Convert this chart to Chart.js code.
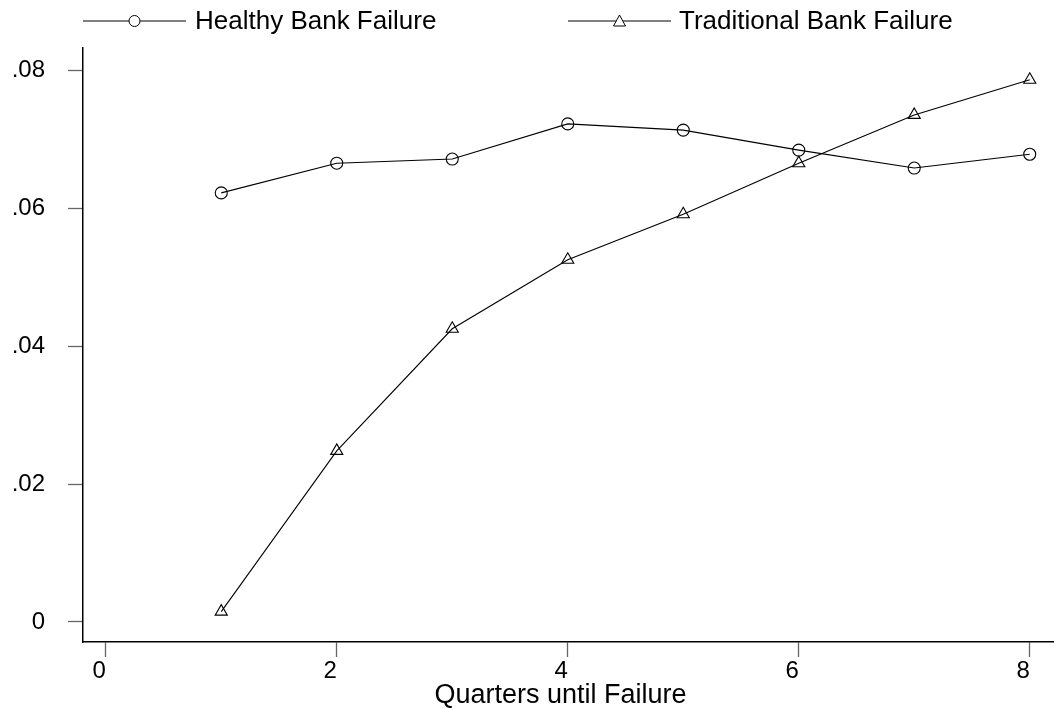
<!DOCTYPE html>
<html lang="en">
<head>
    <meta charset="UTF-8">
    <title>Quarters until Failure</title>
    <script src="https://cdn.jsdelivr.net/npm/chart.js@4.4.0/dist/chart.umd.min.js"></script>
    <style>
        html, body { margin: 0; padding: 0; background: #fff; overflow: hidden; }
        #wrap { width: 1054px; height: 708px; }
        canvas { display: block; }
    </style>
</head>
<body>
    <div id="wrap"><canvas id="chart" width="1054" height="708"></canvas></div>
    <script>
        // data
        const quarters = [1, 2, 3, 4, 5, 6, 7, 8];
        const healthy = [0.0622, 0.0665, 0.0671, 0.0722, 0.0713, 0.0684, 0.0658, 0.0678];
        const traditional = [0.0015, 0.0248, 0.0425, 0.0525, 0.0591, 0.0665, 0.0735, 0.0786];
        const xTicks = [0, 2, 4, 6, 8];
        const yTicks = [0, 0.02, 0.04, 0.06, 0.08];
        const seriesNames = ['Healthy Bank Failure', 'Traditional Bank Failure'];
        const xTitle = 'Quarters until Failure';

        const FAMILY = 'Arial, "Liberation Sans", sans-serif';
        const TICK_FONT = { family: FAMILY, size: 24 };

        // Stata style legend (line with marker in the middle) and the x axis title
        const lineLegend = {
            id: 'lineLegend',
            afterDraw(chart) {
                const ctx = chart.ctx;
                const y = 21;
                const items = [
                    { x0: 83, x1: 186, text: 195, style: 'circle' },
                    { x0: 568, x1: 671, text: 679, style: 'triangle' }
                ];
                ctx.save();
                ctx.strokeStyle = '#000';
                ctx.lineWidth = 1;
                ctx.font = '26px ' + FAMILY;
                ctx.textBaseline = 'middle';
                items.forEach((it, i) => {
                    ctx.beginPath();
                    ctx.moveTo(it.x0, y);
                    ctx.lineTo(it.x1, y);
                    ctx.stroke();
                    const cx = (it.x0 + it.x1) / 2;
                    ctx.fillStyle = '#fff';
                    ctx.beginPath();
                    if (it.style === 'circle') {
                        ctx.arc(cx, y, 5.5, 0, Math.PI * 2);
                    } else {
                        ctx.moveTo(cx, y - 6);
                        ctx.lineTo(cx + 6, y + 5);
                        ctx.lineTo(cx - 6, y + 5);
                        ctx.closePath();
                    }
                    ctx.fill();
                    ctx.stroke();
                    ctx.fillStyle = '#000';
                    ctx.fillText(seriesNames[i], it.text, y + 1);
                });

                // axis title, Stata puts it a little left of the scale centre
                ctx.font = '27px ' + FAMILY;
                ctx.textAlign = 'center';
                ctx.textBaseline = 'alphabetic';
                const xs = chart.scales.x;
                ctx.fillText(xTitle, (xs.left + xs.right) / 2 - 8, 703);
                ctx.restore();
            }
        };

        const toPoints = (vals) => quarters.map((q, i) => ({ x: q, y: vals[i] }));

        new Chart(document.getElementById('chart'), {
            type: 'line',
            data: {
                datasets: [
                    {
                        label: seriesNames[0],
                        data: toPoints(healthy),
                        borderColor: '#000',
                        borderWidth: 1.1,
                        pointStyle: 'circle',
                        pointRadius: 6,
                        pointBorderWidth: 1.1,
                        pointBorderColor: '#000',
                        pointBackgroundColor: 'rgba(0,0,0,0)',
                        tension: 0
                    },
                    {
                        label: seriesNames[1],
                        data: toPoints(traditional),
                        borderColor: '#000',
                        borderWidth: 1.1,
                        pointStyle: 'triangle',
                        pointRadius: 7,
                        pointBorderWidth: 1.1,
                        pointBorderColor: '#000',
                        pointBackgroundColor: 'rgba(0,0,0,0)',
                        tension: 0
                    }
                ]
            },
            options: {
                responsive: false,
                animation: false,
                layout: { autoPadding: false, padding: { top: 48, left: 0, right: 0, bottom: 0 } },
                plugins: {
                    legend: { display: false },
                    tooltip: { enabled: false }
                },
                scales: {
                    x: {
                        type: 'linear',
                        min: -0.197,
                        max: 8.21,
                        afterBuildTicks: (s) => { s.ticks = xTicks.map(v => ({ value: v })); },
                        afterFit: (s) => { s.height = 66; s.paddingRight = 0; },
                        border: { display: true, color: '#000', width: 1.5 },
                        grid: { drawOnChartArea: false, drawTicks: true, tickLength: 15, color: '#666', tickWidth: 1.3 },
                        ticks: { color: '#000', font: TICK_FONT, padding: 0, maxRotation: 0, align: 'end' }
                    },
                    y: {
                        min: -0.0029,
                        max: 0.0832,
                        afterBuildTicks: (s) => { s.ticks = yTicks.map(v => ({ value: v })); },
                        afterFit: (s) => { s.width = 83; },
                        border: { display: true, color: '#000', width: 1.5 },
                        grid: { drawOnChartArea: false, drawTicks: true, tickLength: 15, color: '#666', tickWidth: 1.3 },
                        ticks: {
                            color: '#000',
                            font: TICK_FONT,
                            padding: 23,
                            callback: (v) => v === 0 ? '0' : v.toFixed(2).replace(/^0/, '')
                        }
                    }
                }
            },
            plugins: [lineLegend]
        });
    </script>
</body>
</html>
